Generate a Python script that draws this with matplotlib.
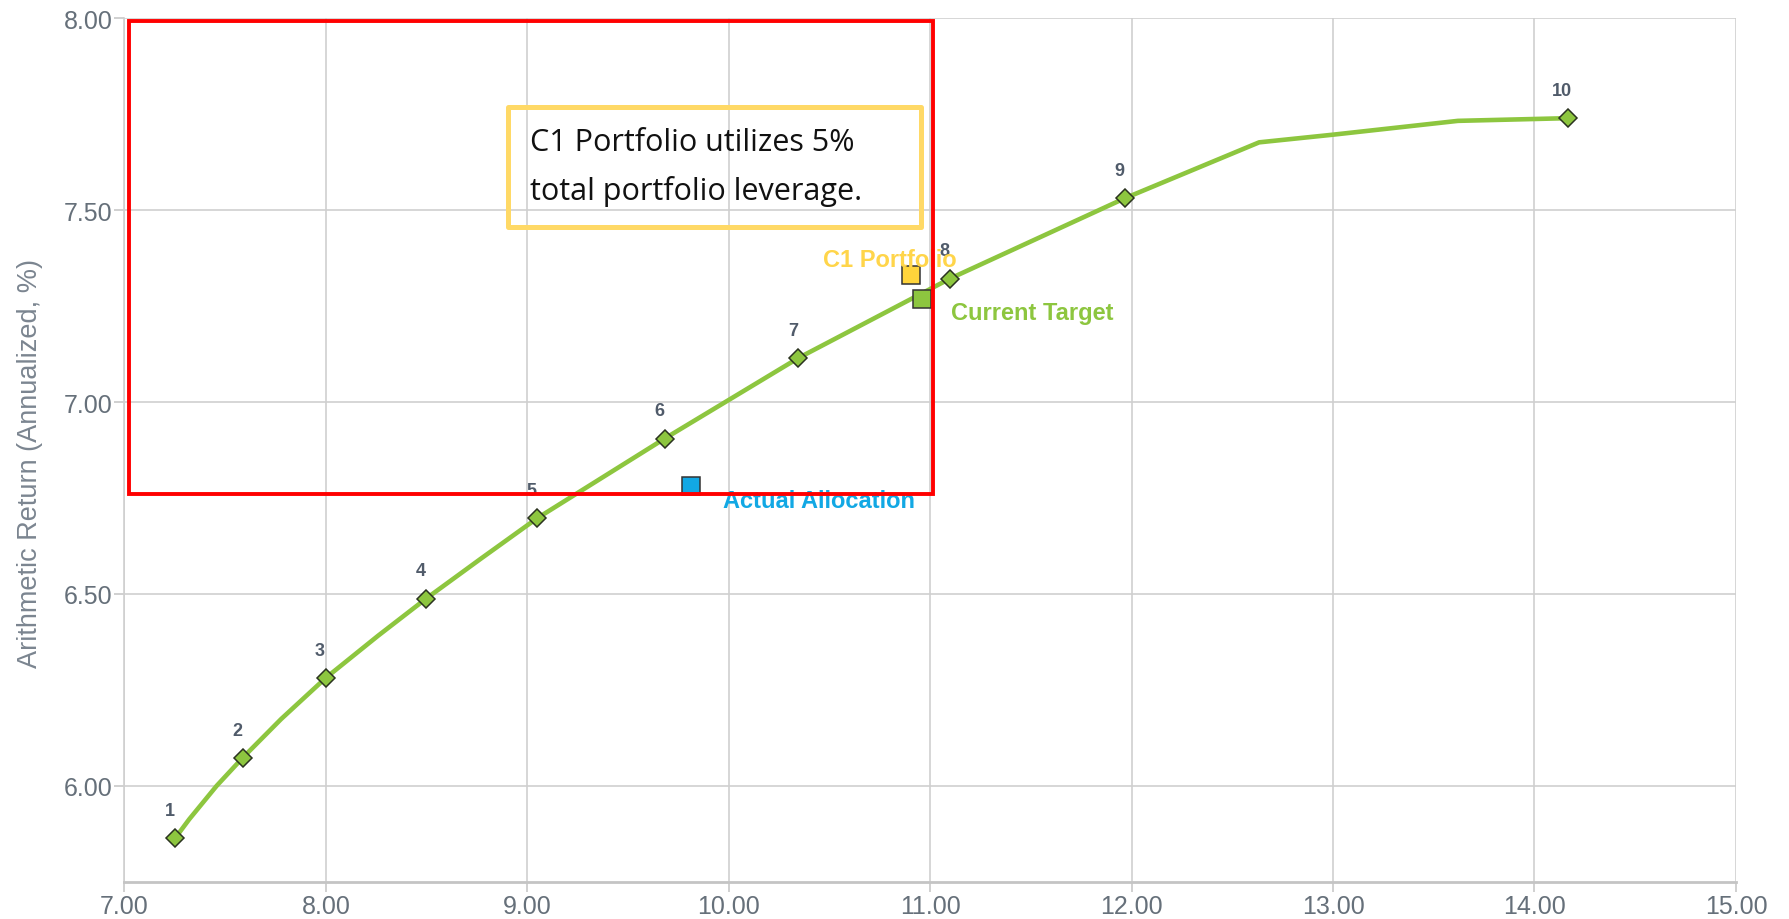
import matplotlib
matplotlib.use("Agg")
import matplotlib.pyplot as plt
from matplotlib.patches import Rectangle
from matplotlib.ticker import FormatStrFormatter

# efficient frontier portfolios 1..10 (risk %, arithmetic return %)
frontier_risk = [7.251, 7.587, 7.999, 8.498, 9.048, 9.682, 10.346, 11.099, 11.965, 14.166]
frontier_return = [5.863, 6.073, 6.281, 6.488, 6.697, 6.905, 7.115, 7.322, 7.531, 7.740]
frontier_labels = ["1", "2", "3", "4", "5", "6", "7", "8", "9", "10"]

# vertices of the frontier line as drawn
curve_risk = [7.251, 7.322, 7.458, 7.587, 7.778, 7.999, 8.259, 8.498, 8.767, 9.048,
              9.682, 10.346, 11.099, 11.965, 12.633, 13.000, 13.620, 14.166]
curve_return = [5.863, 5.913, 6.000, 6.073, 6.174, 6.281, 6.391, 6.488, 6.591, 6.697,
                6.905, 7.115, 7.322, 7.531, 7.677, 7.697, 7.733, 7.740]

# individual portfolios
c1_point = (10.907, 7.331)
target_point = (10.961, 7.269)
actual_point = (9.812, 6.781)

# highlight boxes (data coords)
red_box = (7.021, 6.760, 11.013, 7.994)
note_box = (8.904, 7.456, 10.953, 7.769)
note_text = "C1 Portfolio utilizes 5%\ntotal portfolio leverage."

x_ticks = [7, 8, 9, 10, 11, 12, 13, 14, 15]
y_ticks = [6.0, 6.5, 7.0, 7.5, 8.0]

GREEN = "#8dc63f"
YELLOW = "#ffd54a"
BLUE = "#12a8e4"
TICK_GRAY = "#66707a"
SANS = ["Liberation Sans", "DejaVu Sans"]

fig = plt.figure(figsize=(17.9, 9.2), dpi=100)
ax = fig.add_axes([0.0695, 0.0405, 0.9003, 0.9384])

ax.set_xlim(7, 15)
ax.set_ylim(5.75, 8.0)
ax.set_xticks(x_ticks)
ax.set_yticks(y_ticks)
ax.xaxis.set_major_formatter(FormatStrFormatter("%.2f"))
ax.yaxis.set_major_formatter(FormatStrFormatter("%.2f"))
ax.grid(True, color="#cfcfcf", linewidth=1.2, zorder=0)
ax.set_axisbelow(True)

for side in ["top", "right"]:
    ax.spines[side].set_visible(False)
ax.spines["left"].set_color("#cfcfcf")
ax.spines["left"].set_linewidth(1.2)
ax.spines["bottom"].set_color("#c4c4c4")
ax.spines["bottom"].set_linewidth(2)

ax.tick_params(axis="both", length=7, width=1.2, color="#c8c8c8",
               labelcolor=TICK_GRAY, labelsize=18)
ax.tick_params(axis="x", pad=2)
ax.tick_params(axis="y", pad=1.5)
for lab in ax.get_xticklabels() + ax.get_yticklabels():
    lab.set_fontfamily(SANS)

fig.text(30 / 1790, 1 - 464 / 920, "Arithmetic Return (Annualized, %)",
         rotation=90, ha="center", va="center", fontsize=19.5,
         color="#7b8590", family=SANS)

# frontier line and markers
ax.plot(curve_risk, curve_return, color=GREEN, linewidth=3.3, zorder=3,
        solid_capstyle="round", solid_joinstyle="round")
ax.plot(frontier_risk, frontier_return, linestyle="none", marker="D",
        markersize=9.5, markerfacecolor=GREEN, markeredgecolor="#2b3320",
        markeredgewidth=1.1, zorder=4)
for x, y, lab in zip(frontier_risk, frontier_return, frontier_labels):
    ax.annotate(lab, (x, y), xytext=(-4, 20), textcoords="offset points",
                ha="center", va="center", fontsize=13, fontweight="bold",
                color="#505b6a", family=SANS, zorder=5)

# portfolios
ax.plot(*c1_point, marker="s", markersize=13, markerfacecolor="#ffd43b",
        markeredgecolor="#333333", markeredgewidth=1.1, zorder=5)
ax.plot(*target_point, marker="s", markersize=13, markerfacecolor=GREEN,
        markeredgecolor="#333333", markeredgewidth=1.1, zorder=5)
ax.plot(*actual_point, marker="s", markersize=13.5, markerfacecolor=BLUE,
        markeredgecolor="#333333", markeredgewidth=1.1, zorder=5)

lab_font = dict(fontsize=17, fontweight="bold", family=SANS,
                textcoords="offset points", ha="left", va="baseline", zorder=6)
ax.annotate("C1 Portfolio", c1_point, xytext=(-64, 6.6), color=YELLOW, **lab_font)
ax.annotate("Current Target", target_point, xytext=(21, -14.6), color=GREEN, **lab_font)
ax.annotate("Actual Allocation", actual_point, xytext=(23, -15), color=BLUE, **lab_font)

# red highlight rectangle
x0, y0, x1, y1 = red_box
ax.add_patch(Rectangle((x0, y0), x1 - x0, y1 - y0, fill=False, edgecolor="#ff0000",
                       linewidth=2.8, zorder=7))

# note box
x0, y0, x1, y1 = note_box
ax.add_patch(Rectangle((x0, y0), x1 - x0, y1 - y0, facecolor="none", edgecolor="#ffd966",
                       linewidth=3.6, joinstyle="round", zorder=6))
# va="baseline" anchors the last line's baseline
ax.text(9.013, 7.530, note_text, ha="left", va="baseline", fontsize=22,
        color="#111111", family=["Open Sans", "DejaVu Sans"], linespacing=1.75, zorder=6)

fig.savefig("out.png", dpi=100)
